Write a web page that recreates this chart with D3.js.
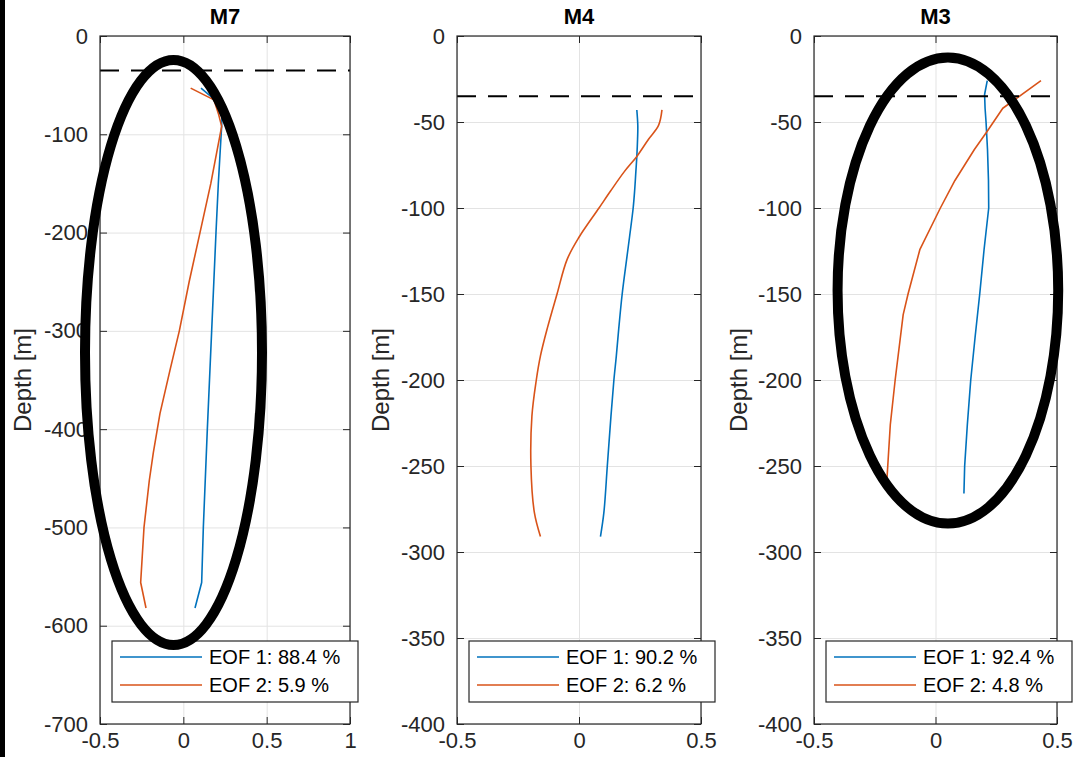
<!DOCTYPE html>
<html>
<head>
<meta charset="utf-8">
<script src="https://cdn.jsdelivr.net/npm/d3@7/dist/d3.min.js"></script>
<style>
  html, body { margin: 0; padding: 0; background: #fff; }
  svg { display: block; font-family: "Liberation Sans", Arial, Helvetica, sans-serif; }
</style>
</head>
<body>
<svg id="chart" width="1075" height="757"></svg>
<script>
// ---------------- DATA ----------------
const panelTitles = ["M7", "M4", "M3"];
const legendLabels = [
  ["EOF 1: 88.4 %", "EOF 2: 5.9 %"],
  ["EOF 1: 90.2 %", "EOF 2: 6.2 %"],
  ["EOF 1: 92.4 %", "EOF 2: 4.8 %"]
];
const xDomains = [[-0.5, 1], [-0.5, 0.5], [-0.5, 0.5]];
const yDomains = [[-700, 0], [-400, 0], [-400, 0]];
const xTickVals = [[-0.5, 0, 0.5, 1], [-0.5, 0, 0.5], [-0.5, 0, 0.5]];
const yTickVals = [
  [0, -100, -200, -300, -400, -500, -600, -700],
  [0, -50, -100, -150, -200, -250, -300, -350, -400],
  [0, -50, -100, -150, -200, -250, -300, -350, -400]
];
const mixedLayerDepth = -35;

// M7
const m7Depth1 = [-53, -65, -80, -92, -100, -150, -200, -250, -300, -350, -400, -450, -500, -556, -582];
const m7Eof1   = [0.106, 0.19, 0.232, 0.23, 0.227, 0.21, 0.196, 0.183, 0.17, 0.157, 0.144, 0.132, 0.12, 0.11, 0.07];
const m7Depth2 = [-53, -65, -80, -92, -150, -200, -250, -300, -340, -384, -424, -452, -500, -556, -582];
const m7Eof2   = [0.044, 0.184, 0.212, 0.23, 0.165, 0.1, 0.035, -0.024, -0.08, -0.14, -0.18, -0.204, -0.236, -0.256, -0.224];

// M4
const m4Depth1 = [-43, -52, -60, -70, -79, -90, -100, -117, -130, -150, -170, -186, -200, -221, -250, -277, -291];
const m4Eof1   = [0.237, 0.241, 0.240, 0.237, 0.233, 0.228, 0.222, 0.207, 0.195, 0.177, 0.163, 0.153, 0.143, 0.131, 0.116, 0.102, 0.088];
const m4Depth2 = [-43, -52, -60, -70, -79, -90, -100, -117, -130, -150, -170, -186, -200, -221, -250, -277, -291];
const m4Eof2   = [0.34, 0.326, 0.285, 0.237, 0.185, 0.13, 0.082, 0.0, -0.049, -0.09, -0.13, -0.158, -0.175, -0.193, -0.197, -0.183, -0.158];

// M3
const m3Depth1 = [-26, -34, -42, -50, -66, -84, -100, -124, -150, -175, -200, -226, -250, -266];
const m3Eof1   = [0.213, 0.202, 0.204, 0.208, 0.214, 0.218, 0.219, 0.2, 0.182, 0.163, 0.145, 0.131, 0.12, 0.117];
const m3Depth2 = [-26, -42, -56, -66, -84, -100, -124, -150, -162, -200, -226, -258];
const m3Eof2   = [0.434, 0.277, 0.21, 0.16, 0.08, 0.02, -0.064, -0.113, -0.133, -0.166, -0.186, -0.2];

// annotation ellipses (data units): [centerX, centerDepth, radiusX, radiusDepth]
const ellipseM7 = [-0.059, -322, 0.531, 297.6];
const ellipseM3 = [0.051, -148, 0.454, 135.5];

// ---------------- LAYOUT ----------------
const W = 1075, H = 757;
const plotTop = 36, plotBottom = 724;
const panelX = [[100, 350], [457, 701], [814, 1057]];
const legendBoxes = [[112, 641], [469, 641], [826, 641]];
const legendW = 246, legendH = 61;
const ylabelX = [22, 380, 738];
const smoothPanel = [false, true, false];

const blue = "#0072BD", orange = "#D95319", axisCol = "#262626", gridCol = "#e3e3e3";
const tickFont = 22, legendFont = 20, titleFont = 22, labelFont = 24;

const svg = d3.select("#chart");
svg.append("rect").attr("width", W).attr("height", H).attr("fill", "#fff");

const series = [
  [[m7Depth1, m7Eof1], [m7Depth2, m7Eof2]],
  [[m4Depth1, m4Eof1], [m4Depth2, m4Eof2]],
  [[m3Depth1, m3Eof1], [m3Depth2, m3Eof2]]
];
const ellipses = [ellipseM7, null, ellipseM3];

const scales = [];
const fmt = d => String(d);   // plain hyphen-minus like the reference

panelTitles.forEach((title, i) => {
  const [x0, x1] = panelX[i];
  const x = d3.scaleLinear().domain(xDomains[i]).range([x0, x1]);
  const y = d3.scaleLinear().domain(yDomains[i]).range([plotBottom, plotTop]);
  scales.push({x, y});
  const g = svg.append("g");

  // grid
  const gx = g.append("g").attr("transform", `translate(0,${plotBottom})`)
    .call(d3.axisBottom(x).tickValues(xTickVals[i]).tickSize(-(plotBottom - plotTop)).tickFormat(""));
  const gy = g.append("g").attr("transform", `translate(${x0},0)`)
    .call(d3.axisLeft(y).tickValues(yTickVals[i]).tickSize(-(x1 - x0)).tickFormat(""));
  [gx, gy].forEach(a => {
    a.select(".domain").remove();
    a.selectAll("line").attr("stroke", gridCol).attr("stroke-width", 1);
  });

  // lines
  const line = d3.line().x(d => x(d[1])).y(d => y(d[0]))
    .curve(smoothPanel[i] ? d3.curveCatmullRom.alpha(0.5) : d3.curveLinear);
  const cols = [blue, orange];
  series[i].forEach((s, k) => {
    const pts = s[0].map((dep, j) => [dep, s[1][j]]);
    g.append("path").datum(pts).attr("d", line)
      .attr("fill", "none").attr("stroke", cols[k]).attr("stroke-width", 1.6)
      .attr("stroke-linejoin", "round");
  });

  // dashed line
  g.append("line")
    .attr("x1", x0).attr("x2", x1)
    .attr("y1", y(mixedLayerDepth)).attr("y2", y(mixedLayerDepth))
    .attr("stroke", "#000").attr("stroke-width", 2).attr("stroke-dasharray", "19,12");

  // axes with inward ticks
  const ab = g.append("g").attr("transform", `translate(0,${plotBottom})`)
    .call(d3.axisBottom(x).tickValues(xTickVals[i]).tickSize(-7).tickSizeOuter(0).tickPadding(8).tickFormat(fmt));
  const al = g.append("g").attr("transform", `translate(${x0},0)`)
    .call(d3.axisLeft(y).tickValues(yTickVals[i]).tickSize(-7).tickSizeOuter(0).tickPadding(12).tickFormat(fmt));
  const at = g.append("g").attr("transform", `translate(0,${plotTop})`)
    .call(d3.axisTop(x).tickValues(xTickVals[i]).tickSize(-7).tickSizeOuter(0).tickFormat(""));
  const ar = g.append("g").attr("transform", `translate(${x1},0)`)
    .call(d3.axisRight(y).tickValues(yTickVals[i]).tickSize(-7).tickSizeOuter(0).tickFormat(""));
  [ab, al, at, ar].forEach(a => {
    a.select(".domain").remove();
    a.selectAll("line").attr("stroke", axisCol).attr("stroke-width", 1);
    a.selectAll("text").attr("fill", axisCol).attr("font-size", tickFont)
      .attr("font-family", "Liberation Sans, Arial, sans-serif");
  });
  g.append("rect").attr("x", x0).attr("y", plotTop).attr("width", x1 - x0).attr("height", plotBottom - plotTop)
    .attr("fill", "none").attr("stroke", axisCol).attr("stroke-width", 1.2);

  // title
  g.append("text").attr("x", (x0 + x1) / 2).attr("y", 24)
    .attr("text-anchor", "middle").attr("font-weight", "bold").attr("font-size", titleFont)
    .attr("fill", "#000").text(title);

  // y label
  g.append("text")
    .attr("transform", `translate(${ylabelX[i]},${(plotTop + plotBottom) / 2}) rotate(-90)`)
    .attr("text-anchor", "middle").attr("dominant-baseline", "central")
    .attr("font-size", labelFont).attr("fill", axisCol).text("Depth [m]");

  // legend
  const [lx, ly] = legendBoxes[i];
  const lg = g.append("g");
  lg.append("rect").attr("x", lx).attr("y", ly).attr("width", legendW).attr("height", legendH)
    .attr("fill", "#fff").attr("stroke", axisCol).attr("stroke-width", 1.2);
  legendLabels[i].forEach((lab, k) => {
    const yy = ly + 16 + k * 28;
    lg.append("line").attr("x1", lx + 8).attr("x2", lx + 90).attr("y1", yy).attr("y2", yy)
      .attr("stroke", cols[k]).attr("stroke-width", 1.6);
    lg.append("text").attr("x", lx + 97).attr("y", yy + legendFont * 0.36)
      .attr("font-size", legendFont).attr("fill", "#000").text(lab);
  });
});

// annotation ellipses
ellipses.forEach((e, i) => {
  if (!e) return;
  const {x, y} = scales[i];
  const cx = x(e[0]), cy = y(e[1]);
  const rx = x(e[0] + e[2]) - cx, ry = y(e[1] - e[3]) - cy;
  svg.append("ellipse").attr("cx", cx).attr("cy", cy).attr("rx", rx).attr("ry", ry)
    .attr("fill", "none").attr("stroke", "#000").attr("stroke-width", 10);
});

// left border strip
svg.append("rect").attr("x", 0).attr("y", 0).attr("width", 5).attr("height", H).attr("fill", "#000");
</script>
</body>
</html>
